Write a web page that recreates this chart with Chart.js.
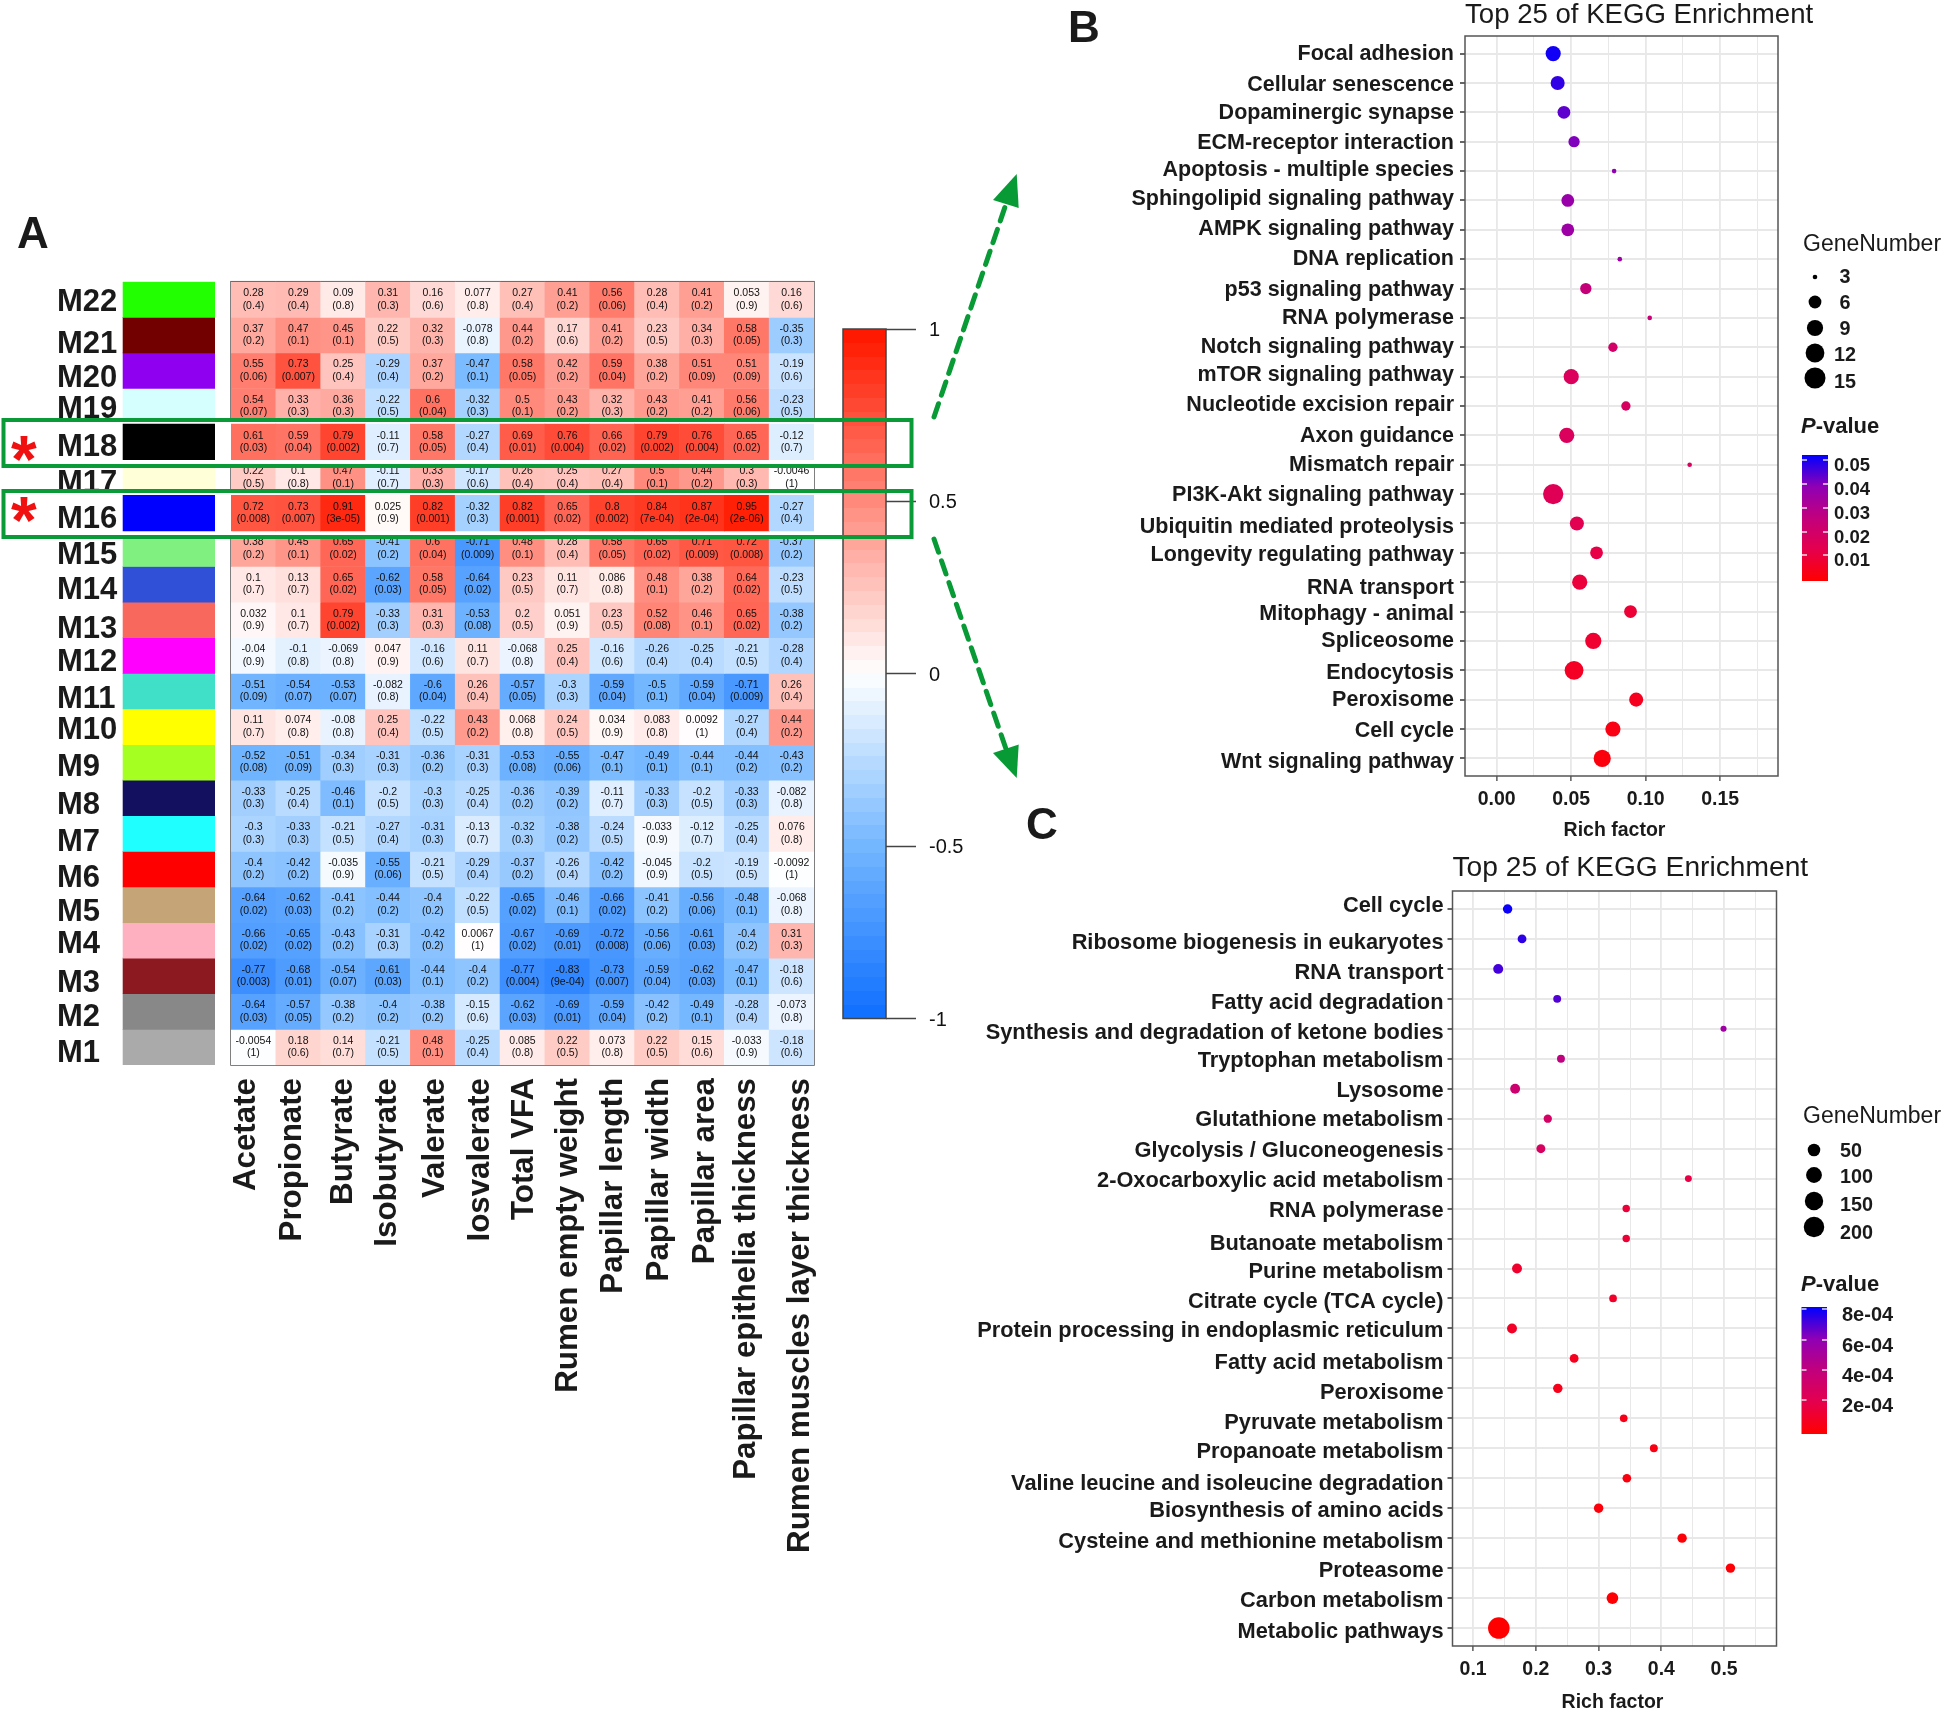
<!DOCTYPE html>
<html>
<head>
<meta charset="utf-8">
<title>Module trait heatmap and KEGG enrichment</title>
<script src="https://cdn.jsdelivr.net/npm/chart.js@4"></script>
<style>
    html, body { margin: 0; padding: 0; background: #fff; }
    #page { position: relative; width: 1946px; height: 1711px; overflow: hidden; }
    #page canvas { position: absolute; left: 0; top: 0; }
    #marks { position: absolute; left: 0; top: 0; }
    #marks text { font-family: "Liberation Sans", Arial, sans-serif; font-weight: bold; }
</style>
</head>
<body>
<div id="page">
    <canvas id="strip" width="1946" height="1711"></canvas>
    <canvas id="heat" width="1946" height="1711"></canvas>
    <canvas id="scale" width="1946" height="1711"></canvas>
    <canvas id="kegg1" width="1946" height="1711"></canvas>
    <canvas id="kegg2" width="1946" height="1711"></canvas>
    <svg id="marks" width="1946" height="1711">
        <g fill="none" stroke="#0a9a38" stroke-width="4">
            <rect x="3.5" y="420" width="908" height="46"></rect>
            <rect x="3.5" y="491" width="908" height="46"></rect>
        </g>
        <g fill="none" stroke="#079a35" stroke-width="5" stroke-dasharray="14 9" stroke-linecap="round">
            <line x1="934" y1="417" x2="1006" y2="204"></line>
            <line x1="934" y1="539" x2="1006" y2="749"></line>
        </g>
        <g fill="#079a35">
            <polygon points="1016.7,174 993,200 1018.7,208"></polygon>
            <polygon points="1016.7,778 993,753 1018.7,744.5"></polygon>
        </g>
        <g fill="#1a1a1a" font-size="44">
            <text x="17" y="248">A</text>
            <text x="1068" y="42">B</text>
            <text x="1026" y="839">C</text>
        </g>
        <g fill="#f01010" font-size="66">
            <text x="11" y="482">*</text>
            <text x="11" y="543">*</text>
        </g>
    </svg>
</div>
<script>
const traits = ["Acetate", "Propionate", "Butyrate", "Isobutyrate", "Valerate", "Iosvalerate", "Total VFA",
    "Rumen empty weight", "Papillar length", "Papillar width", "Papillar area",
    "Papillar epithelia thickness", "Rumen muscles layer thickness"];
const modules = ["M22", "M21", "M20", "M19", "M18", "M17", "M16", "M15", "M14", "M13", "M12",
    "M11", "M10", "M9", "M8", "M7", "M6", "M5", "M4", "M3", "M2", "M1"];
const moduleColors = ["#22ff00", "#730000", "#9000f0", "#d5ffff", "#000000", "#ffffd8", "#0000ff", "#80f080",
    "#3050d8", "#f8685c", "#ff00ff", "#40e0c8", "#ffff00", "#a5ff20", "#141060", "#1fffff",
    "#ff0000", "#c5a578", "#ffb0c0", "#8c1820", "#888888", "#aaaaaa"];
const correlations = [
    [0.28, 0.29, 0.09, 0.31, 0.16, 0.077, 0.27, 0.41, 0.56, 0.28, 0.41, 0.053, 0.16],
    [0.37, 0.47, 0.45, 0.22, 0.32, -0.078, 0.44, 0.17, 0.41, 0.23, 0.34, 0.58, -0.35],
    [0.55, 0.73, 0.25, -0.29, 0.37, -0.47, 0.58, 0.42, 0.59, 0.38, 0.51, 0.51, -0.19],
    [0.54, 0.33, 0.36, -0.22, 0.6, -0.32, 0.5, 0.43, 0.32, 0.43, 0.41, 0.56, -0.23],
    [0.61, 0.59, 0.79, -0.11, 0.58, -0.27, 0.69, 0.76, 0.66, 0.79, 0.76, 0.65, -0.12],
    [0.22, 0.1, 0.47, -0.11, 0.33, -0.17, 0.26, 0.25, 0.27, 0.5, 0.44, 0.3, -0.0046],
    [0.72, 0.73, 0.91, 0.025, 0.82, -0.32, 0.82, 0.65, 0.8, 0.84, 0.87, 0.95, -0.27],
    [0.38, 0.45, 0.65, -0.41, 0.6, -0.71, 0.48, 0.28, 0.58, 0.65, 0.71, 0.72, -0.37],
    [0.1, 0.13, 0.65, -0.62, 0.58, -0.64, 0.23, 0.11, 0.086, 0.48, 0.38, 0.64, -0.23],
    [0.032, 0.1, 0.79, -0.33, 0.31, -0.53, 0.2, 0.051, 0.23, 0.52, 0.46, 0.65, -0.38],
    [-0.04, -0.1, -0.069, 0.047, -0.16, 0.11, -0.068, 0.25, -0.16, -0.26, -0.25, -0.21, -0.28],
    [-0.51, -0.54, -0.53, -0.082, -0.6, 0.26, -0.57, -0.3, -0.59, -0.5, -0.59, -0.71, 0.26],
    [0.11, 0.074, -0.08, 0.25, -0.22, 0.43, 0.068, 0.24, 0.034, 0.083, 0.0092, -0.27, 0.44],
    [-0.52, -0.51, -0.34, -0.31, -0.36, -0.31, -0.53, -0.55, -0.47, -0.49, -0.44, -0.44, -0.43],
    [-0.33, -0.25, -0.46, -0.2, -0.3, -0.25, -0.36, -0.39, -0.11, -0.33, -0.2, -0.33, -0.082],
    [-0.3, -0.33, -0.21, -0.27, -0.31, -0.13, -0.32, -0.38, -0.24, -0.033, -0.12, -0.25, 0.076],
    [-0.4, -0.42, -0.035, -0.55, -0.21, -0.29, -0.37, -0.26, -0.42, -0.045, -0.2, -0.19, -0.0092],
    [-0.64, -0.62, -0.41, -0.44, -0.4, -0.22, -0.65, -0.46, -0.66, -0.41, -0.56, -0.48, -0.068],
    [-0.66, -0.65, -0.43, -0.31, -0.42, 0.0067, -0.67, -0.69, -0.72, -0.56, -0.61, -0.4, 0.31],
    [-0.77, -0.68, -0.54, -0.61, -0.44, -0.4, -0.77, -0.83, -0.73, -0.59, -0.62, -0.47, -0.18],
    [-0.64, -0.57, -0.38, -0.4, -0.38, -0.15, -0.62, -0.69, -0.59, -0.42, -0.49, -0.28, -0.073],
    [-0.0054, 0.18, 0.14, -0.21, 0.48, -0.25, 0.085, 0.22, 0.073, 0.22, 0.15, -0.033, -0.18],
];
const corrPvalues = [
    ["0.4", "0.4", "0.8", "0.3", "0.6", "0.8", "0.4", "0.2", "0.06", "0.4", "0.2", "0.9", "0.6"],
    ["0.2", "0.1", "0.1", "0.5", "0.3", "0.8", "0.2", "0.6", "0.2", "0.5", "0.3", "0.05", "0.3"],
    ["0.06", "0.007", "0.4", "0.4", "0.2", "0.1", "0.05", "0.2", "0.04", "0.2", "0.09", "0.09", "0.6"],
    ["0.07", "0.3", "0.3", "0.5", "0.04", "0.3", "0.1", "0.2", "0.3", "0.2", "0.2", "0.06", "0.5"],
    ["0.03", "0.04", "0.002", "0.7", "0.05", "0.4", "0.01", "0.004", "0.02", "0.002", "0.004", "0.02", "0.7"],
    ["0.5", "0.8", "0.1", "0.7", "0.3", "0.6", "0.4", "0.4", "0.4", "0.1", "0.2", "0.3", "1"],
    ["0.008", "0.007", "3e-05", "0.9", "0.001", "0.3", "0.001", "0.02", "0.002", "7e-04", "2e-04", "2e-06", "0.4"],
    ["0.2", "0.1", "0.02", "0.2", "0.04", "0.009", "0.1", "0.4", "0.05", "0.02", "0.009", "0.008", "0.2"],
    ["0.7", "0.7", "0.02", "0.03", "0.05", "0.02", "0.5", "0.7", "0.8", "0.1", "0.2", "0.02", "0.5"],
    ["0.9", "0.7", "0.002", "0.3", "0.3", "0.08", "0.5", "0.9", "0.5", "0.08", "0.1", "0.02", "0.2"],
    ["0.9", "0.8", "0.8", "0.9", "0.6", "0.7", "0.8", "0.4", "0.6", "0.4", "0.4", "0.5", "0.4"],
    ["0.09", "0.07", "0.07", "0.8", "0.04", "0.4", "0.05", "0.3", "0.04", "0.1", "0.04", "0.009", "0.4"],
    ["0.7", "0.8", "0.8", "0.4", "0.5", "0.2", "0.8", "0.5", "0.9", "0.8", "1", "0.4", "0.2"],
    ["0.08", "0.09", "0.3", "0.3", "0.2", "0.3", "0.08", "0.06", "0.1", "0.1", "0.1", "0.2", "0.2"],
    ["0.3", "0.4", "0.1", "0.5", "0.3", "0.4", "0.2", "0.2", "0.7", "0.3", "0.5", "0.3", "0.8"],
    ["0.3", "0.3", "0.5", "0.4", "0.3", "0.7", "0.3", "0.2", "0.5", "0.9", "0.7", "0.4", "0.8"],
    ["0.2", "0.2", "0.9", "0.06", "0.5", "0.4", "0.2", "0.4", "0.2", "0.9", "0.5", "0.5", "1"],
    ["0.02", "0.03", "0.2", "0.2", "0.2", "0.5", "0.02", "0.1", "0.02", "0.2", "0.06", "0.1", "0.8"],
    ["0.02", "0.02", "0.2", "0.3", "0.2", "1", "0.02", "0.01", "0.008", "0.06", "0.03", "0.2", "0.3"],
    ["0.003", "0.01", "0.07", "0.03", "0.1", "0.2", "0.004", "9e-04", "0.007", "0.04", "0.03", "0.1", "0.6"],
    ["0.03", "0.05", "0.2", "0.2", "0.2", "0.6", "0.03", "0.01", "0.04", "0.2", "0.1", "0.4", "0.8"],
    ["1", "0.6", "0.7", "0.5", "0.1", "0.4", "0.8", "0.5", "0.8", "0.5", "0.6", "0.9", "0.6"],
];
const corrTicks = [-1, -0.5, 0, 0.5, 1];

const pathwaysB = ["Focal adhesion", "Cellular senescence", "Dopaminergic synapse", "ECM-receptor interaction",
    "Apoptosis - multiple species", "Sphingolipid signaling pathway", "AMPK signaling pathway", "DNA replication",
    "p53 signaling pathway", "RNA polymerase", "Notch signaling pathway", "mTOR signaling pathway",
    "Nucleotide excision repair", "Axon guidance", "Mismatch repair", "PI3K-Akt signaling pathway",
    "Ubiquitin mediated proteolysis", "Longevity regulating pathway", "RNA transport", "Mitophagy - animal",
    "Spliceosome", "Endocytosis", "Peroxisome", "Cell cycle", "Wnt signaling pathway"];
const richB = [0.0379, 0.0409, 0.0451, 0.0519, 0.0788, 0.0477, 0.0477, 0.0826, 0.0598, 0.1027, 0.078, 0.05, 0.0867,
    0.047, 0.1295, 0.0379, 0.0538, 0.067, 0.0557, 0.0898, 0.0648, 0.0519, 0.0936, 0.078, 0.0708];
const genesB = [8, 7, 6, 5, 3, 6, 6, 3, 5, 3, 4, 8, 4, 8, 3, 14, 7, 6, 8, 6, 9, 12, 7, 8, 10];
const pvalB = [0.05, 0.047, 0.043, 0.04, 0.038, 0.036, 0.035, 0.035, 0.025, 0.024, 0.02, 0.017, 0.018,
    0.017, 0.017, 0.015, 0.014, 0.012, 0.01, 0.009, 0.008, 0.006, 0.005, 0.003, 0.002];
const geneLegendB = [3, 6, 9, 12, 15];
const pvalLegendB = [0.05, 0.04, 0.03, 0.02, 0.01];

const pathwaysC = ["Cell cycle", "Ribosome biogenesis in eukaryotes", "RNA transport", "Fatty acid degradation",
    "Synthesis and degradation of ketone bodies", "Tryptophan metabolism", "Lysosome", "Glutathione metabolism",
    "Glycolysis / Gluconeogenesis", "2-Oxocarboxylic acid metabolism", "RNA polymerase", "Butanoate metabolism",
    "Purine metabolism", "Citrate cycle (TCA cycle)", "Protein processing in endoplasmic reticulum",
    "Fatty acid metabolism", "Peroxisome", "Pyruvate metabolism", "Propanoate metabolism",
    "Valine leucine and isoleucine degradation", "Biosynthesis of amino acids", "Cysteine and methionine metabolism",
    "Proteasome", "Carbon metabolism", "Metabolic pathways"];
const richC = [0.155, 0.178, 0.14, 0.234, 0.499, 0.24, 0.167, 0.219, 0.208, 0.443, 0.344, 0.344, 0.17, 0.323, 0.162,
    0.261, 0.235, 0.34, 0.388, 0.345, 0.3, 0.433, 0.51, 0.322, 0.141];
const genesC = [19, 15, 23, 10, 4, 10, 23, 12, 16, 6, 8, 8, 23, 9, 23, 15, 19, 9, 10, 14, 19, 19, 19, 40, 230];
const pvalC = [8e-4, 7.5e-4, 7.2e-4, 7e-4, 5.5e-4, 4.2e-4, 3.5e-4, 3e-4, 2.8e-4, 1.8e-4, 1.5e-4, 1.4e-4, 1.2e-4, 1.1e-4,
    1e-4, 0.8e-4, 0.7e-4, 0.6e-4, 0.5e-4, 0.4e-4, 0.3e-4, 0.2e-4, 0.15e-4, 0.1e-4, 0.01e-4];
const geneLegendC = [50, 100, 150, 200];
const pvalLegendC = ["8e-04", "6e-04", "4e-04", "2e-04"];

// nudges for labels that were placed by hand in the figure
const rowLabelNudge = [3, 9.7, 7.3, 3, 6, 6, 6, 7, 6, 10, 7, 8.6, 4, 5, 7, 9, 9.6, 8, 4.4, 7, 6.2, 6];
const colLabelNudge = [-7.2, -5.5, 0.5, -0.1, 2.5, 2.5, 1.5, 1.5, 0.8, 2.5, 3, 0.1, 8.5];
const labelNudgeB = [0, 2.5, 1.2, 1.2, -1.2, -1.2, -1.2, 0, 1.2, 0, 0, -1.2, -1.2, 1.2, 0, 1.2, 3.7, 2.5, 6, 2.5, 0, 2.5, 0, 2.5, 3.7];
const labelNudgeC = [-2.5, 3.7, 3.7, 3.7, 3.7, 2.5, 2.5, 1.2, 2.5, 2.5, 2.5, 5, 3.7, 3.7, 2.5, 5, 5, 5, 3.7, 6.2, 2.5, 3.7, 2.5, 2.5, 3.7];

const FONT = '"Liberation Sans", Arial, sans-serif';
const HEAT = { left: 231, right: 814, top: 281.7, bottom: 1065 };
const BANDS = { M18: [420, 466], M16: [491, 537] };
const TEXT = "#1a1a1a";
const AXIS_W = 560;

Chart.defaults.font.family = FONT;
Chart.defaults.animation = false;
Chart.defaults.responsive = false;
Chart.defaults.devicePixelRatio = 1;
Chart.defaults.plugins.legend.display = false;
Chart.defaults.plugins.tooltip.enabled = false;

function heatColor(v) {
    const a = Math.abs(v);
    if (v >= 0) {
        return `rgb(255,${Math.round(255 - 235 * a)},${Math.max(0, Math.round(255 - 262 * a))})`;
    }
    const red = a < 0.5 ? 255 - 280 * a : 115 - 200 * (a - 0.5);
    return `rgb(${Math.round(red)},${Math.round(255 - 145 * a)},255)`;
}

const pStops = [[255, 0, 0], [229, 0, 77], [194, 0, 124], [143, 0, 181], [0, 0, 255]];

function pColor(t) {
    const pos = Math.min(Math.max(t, 0), 1) * (pStops.length - 1);
    const i = Math.min(Math.floor(pos), pStops.length - 2);
    const f = pos - i;
    const rgb = pStops[i].map((c, k) => Math.round(c + (pStops[i + 1][k] - c) * f));
    return `rgb(${rgb.join(",")})`;
}

function areaRadius(n, nMin, nMax, rMin, rMax) {
    return rMin + (rMax - rMin) * Math.sqrt((n - nMin) / (nMax - nMin));
}

function pagePadding(box) {
    return { left: box.left, top: box.top, right: 1946 - box.right, bottom: 1711 - box.bottom };
}

// white band behind a highlighted row, the green box itself sits in the svg on top
function paintBand(chart, name, x0, x1) {
    const band = BANDS[name];
    chart.ctx.save();
    chart.ctx.fillStyle = "#fff";
    chart.ctx.fillRect(x0, band[0], x1 - x0, band[1] - band[0]);
    chart.ctx.restore();
}

const stripLabels = {
    id: "stripLabels",
    drawLabels(chart, names) {
        const { ctx, scales } = chart;
        ctx.save();
        ctx.font = `bold 31px ${FONT}`;
        ctx.fillStyle = TEXT;
        ctx.textBaseline = "middle";
        modules.forEach((m, i) => {
            if (names.includes(m)) {
                ctx.fillText(m, 57, scales.y.getPixelForValue(i + 0.5) + rowLabelNudge[i]);
            }
        });
        ctx.restore();
    },
    beforeDatasetsDraw(chart) {
        this.drawLabels(chart, modules.filter((m) => !BANDS[m]));
    },
    beforeDatasetDraw(chart, args) {
        const name = chart.data.datasets[args.index].label;
        if (BANDS[name]) {
            paintBand(chart, name, 0, 226);
        }
    },
    afterDatasetsDraw(chart) {
        this.drawLabels(chart, Object.keys(BANDS));
    },
};

new Chart(document.getElementById("strip"), {
    type: "bar",
    data: {
        labels: ["module"],
        datasets: modules.map((m, i) => ({
            label: m,
            data: [[i, i + 1]],
            backgroundColor: moduleColors[i],
            order: BANDS[m] ? 0 : 1,
        })),
    },
    options: {
        layout: { padding: pagePadding({ left: 122.6, right: 215, top: HEAT.top, bottom: HEAT.bottom }) },
        datasets: { bar: { barPercentage: 1, categoryPercentage: 1, grouped: false, borderWidth: 0 } },
        scales: {
            x: { display: false },
            y: { display: false, min: 0, max: modules.length, reverse: true },
        },
    },
    plugins: [stripLabels],
});

const heatText = {
    id: "heatText",
    beforeDatasetsDraw(chart) {
        const { ctx, chartArea } = chart;
        ctx.save();
        ctx.strokeStyle = "#555";
        ctx.lineWidth = 1.5;
        ctx.strokeRect(chartArea.left, chartArea.top, chartArea.right - chartArea.left, chartArea.bottom - chartArea.top);
        ctx.restore();
    },
    beforeDatasetDraw(chart, args) {
        const name = chart.data.datasets[args.index].label;
        if (BANDS[name]) {
            paintBand(chart, name, 226, 838);
        }
    },
    afterDatasetsDraw(chart) {
        const { ctx, scales } = chart;
        ctx.save();
        ctx.fillStyle = "#111";
        ctx.textAlign = "center";
        ctx.textBaseline = "middle";
        ctx.font = `10.5px ${FONT}`;
        correlations.forEach((row, i) => {
            const y = scales.y.getPixelForValue(i + 0.5);
            row.forEach((v, j) => {
                const x = scales.x.getPixelForValue(j);
                ctx.fillText(String(v), x, y - 6.2);
                ctx.fillText(`(${corrPvalues[i][j]})`, x, y + 6.2);
            });
        });
        ctx.fillStyle = TEXT;
        ctx.font = `bold 31.3px ${FONT}`;
        ctx.textAlign = "right";
        traits.forEach((t, j) => {
            ctx.save();
            ctx.translate(scales.x.getPixelForValue(j) + colLabelNudge[j], 1078);
            ctx.rotate(-Math.PI / 2);
            ctx.fillText(t, 0, 0);
            ctx.restore();
        });
        ctx.restore();
    },
};

new Chart(document.getElementById("heat"), {
    type: "bar",
    data: {
        labels: traits,
        datasets: modules.map((m, i) => ({
            label: m,
            data: traits.map(() => [i, i + 1]),
            backgroundColor: correlations[i].map(heatColor),
            order: BANDS[m] ? 0 : 1,
        })),
    },
    options: {
        layout: { padding: pagePadding(HEAT) },
        datasets: { bar: { barPercentage: 1, categoryPercentage: 1, grouped: false, borderWidth: 0 } },
        scales: {
            x: { display: false },
            y: { display: false, min: 0, max: modules.length, reverse: true },
        },
    },
    plugins: [heatText],
});

function steppedGradient(chart) {
    const { ctx, chartArea } = chart;
    if (!chartArea) {
        return "#fff";
    }
    const steps = 50;
    const gradient = ctx.createLinearGradient(0, chartArea.bottom, 0, chartArea.top);
    for (let i = 0; i < steps; i++) {
        const color = heatColor(((i + 0.5) / steps) * 2 - 1);
        gradient.addColorStop(i / steps, color);
        gradient.addColorStop((i + 1) / steps, color);
    }
    return gradient;
}

const frameOnTop = {
    id: "frameOnTop",
    afterDraw(chart) {
        const { ctx, chartArea } = chart;
        ctx.save();
        ctx.strokeStyle = "#444";
        ctx.lineWidth = 1.5;
        ctx.strokeRect(chartArea.left, chartArea.top, chartArea.right - chartArea.left, chartArea.bottom - chartArea.top);
        ctx.restore();
    },
};

new Chart(document.getElementById("scale"), {
    type: "bar",
    data: {
        labels: ["r"],
        datasets: [{
            data: [[corrTicks[0], corrTicks[corrTicks.length - 1]]],
            backgroundColor: (c) => steppedGradient(c.chart),
            borderWidth: 0,
            barPercentage: 1,
            categoryPercentage: 1,
        }],
    },
    options: {
        layout: { padding: pagePadding({ left: 843, right: 886 + 90, top: 329, bottom: 1018.5 }) },
        scales: {
            x: { display: false },
            y: {
                position: "right",
                min: -1,
                max: 1,
                afterBuildTicks: (s) => { s.ticks = corrTicks.map((value) => ({ value })); },
                afterFit: (s) => { s.width = 90; },
                border: { display: false },
                grid: { drawOnChartArea: false, tickLength: 30, tickColor: "#444", tickWidth: 1.5 },
                ticks: {
                    padding: 13,
                    labelOffset: 1.5,
                    color: "#111",
                    font: { size: 20 },
                    callback: (v) => String(v),
                },
            },
        },
    },
    plugins: [frameOnTop],
});

function dotPlot(canvasId, cfg) {
    const extras = {
        id: "extras",
        afterDraw(chart) {
            const { ctx, chartArea, scales } = chart;
            ctx.save();
            ctx.strokeStyle = "#555";
            ctx.lineWidth = 1.5;
            ctx.strokeRect(chartArea.left, chartArea.top, chartArea.right - chartArea.left, chartArea.bottom - chartArea.top);

            ctx.fillStyle = TEXT;
            ctx.textBaseline = "middle";
            ctx.textAlign = "right";
            ctx.font = `bold ${cfg.labelSize}px ${FONT}`;
            cfg.labels.forEach((label, i) => {
                ctx.fillText(label, chartArea.left - 5 - cfg.yPad, scales.y.getPixelForValue(i) + cfg.labelNudge[i]);
            });

            ctx.textAlign = "center";
            ctx.font = `bold 19.5px ${FONT}`;
            ctx.fillText("Rich factor", cfg.xTitle[0], cfg.xTitle[1]);

            ctx.textAlign = "left";
            ctx.font = `${cfg.titleSize}px ${FONT}`;
            ctx.fillText("Top 25 of KEGG Enrichment", cfg.box.left, cfg.titleY);

            ctx.font = `23px ${FONT}`;
            ctx.fillText("GeneNumber", cfg.legendX, cfg.geneTitleY);
            cfg.geneLegend.forEach((n, i) => {
                ctx.fillStyle = "#000";
                ctx.beginPath();
                ctx.arc(cfg.geneDotX, cfg.geneDotY[i], cfg.radius(n), 0, Math.PI * 2);
                ctx.fill();
                ctx.fillStyle = TEXT;
                ctx.font = `bold 19.8px ${FONT}`;
                ctx.textAlign = cfg.geneTextAlign;
                ctx.fillText(String(n), cfg.geneTextX, cfg.geneTextY[i]);
            });
            ctx.textAlign = "left";

            ctx.font = `italic bold 22px ${FONT}`;
            ctx.fillText("P", cfg.legendX - 2, cfg.pTitleY);
            const pWidth = ctx.measureText("P").width;
            ctx.font = `bold 22px ${FONT}`;
            ctx.fillText("-value", cfg.legendX - 2 + pWidth, cfg.pTitleY);

            const bar = cfg.bar;
            const gradient = ctx.createLinearGradient(0, bar.bottom, 0, bar.top);
            pStops.forEach((s, i) => {
                gradient.addColorStop(i / (pStops.length - 1), `rgb(${s.join(",")})`);
            });
            ctx.fillStyle = gradient;
            ctx.fillRect(bar.left, bar.top, bar.right - bar.left, bar.bottom - bar.top);
            ctx.font = `bold ${bar.textSize}px ${FONT}`;
            cfg.pLegend.forEach((label, i) => {
                const y = bar.tickY[i];
                ctx.fillStyle = "rgba(255,255,255,0.85)";
                ctx.fillRect(bar.left, y - 0.75, 5, 1.5);
                ctx.fillRect(bar.right - 5, y - 0.75, 5, 1.5);
                ctx.fillStyle = TEXT;
                ctx.fillText(String(label), bar.textX, y + bar.textDy);
            });
            ctx.restore();
        },
    };

    new Chart(document.getElementById(canvasId), {
        type: "scatter",
        data: {
            datasets: [{
                data: cfg.rich.map((x, i) => ({ x, y: i })),
                pointRadius: cfg.genes.map(cfg.radius),
                pointBackgroundColor: cfg.pval.map((p) => pColor(p / cfg.pMax)),
                pointBorderWidth: 0,
            }],
        },
        options: {
            layout: {
                padding: pagePadding({
                    left: cfg.box.left - AXIS_W,
                    right: cfg.box.right,
                    top: cfg.box.top,
                    bottom: cfg.box.bottom + cfg.xHeight,
                }),
            },
            scales: {
                x: {
                    type: "linear",
                    min: cfg.xMin,
                    max: cfg.xMax,
                    afterBuildTicks: (s) => { s.ticks = cfg.xGrid.map((value) => ({ value })); },
                    afterFit: (s) => { s.height = cfg.xHeight; },
                    border: { display: false },
                    grid: {
                        color: "#e8e8e8",
                        lineWidth: (c) => (cfg.xLabel(c.tick.value) ? 1.8 : 1),
                        tickLength: 5,
                        tickColor: (c) => (cfg.xLabel(c.tick.value) ? "#333" : "rgba(0,0,0,0)"),
                        tickWidth: 1.2,
                    },
                    ticks: {
                        autoSkip: false,
                        maxRotation: 0,
                        padding: 7,
                        color: TEXT,
                        font: { size: 19.5, weight: "bold" },
                        callback: (v) => cfg.xLabel(v),
                    },
                },
                y: {
                    type: "linear",
                    reverse: true,
                    min: -0.6,
                    max: cfg.labels.length - 0.4,
                    afterBuildTicks: (s) => { s.ticks = cfg.labels.map((_, value) => ({ value })); },
                    afterFit: (s) => { s.width = AXIS_W; },
                    border: { display: false },
                    grid: { color: "#e8e8e8", lineWidth: 2, tickLength: 5, tickColor: "#333", tickWidth: 1.5 },
                    ticks: { display: false },
                },
            },
        },
        plugins: [extras],
    });
}

dotPlot("kegg1", {
    labels: pathwaysB,
    labelNudge: labelNudgeB,
    rich: richB,
    genes: genesB,
    pval: pvalB,
    pMax: 0.0515,
    radius: (n) => areaRadius(n, 3, 15, 2.3, 10.5),
    box: { left: 1465, right: 1778, top: 36, bottom: 776 },
    xMin: -0.0213,
    xMax: 0.1888,
    xGrid: [0, 0.025, 0.05, 0.075, 0.1, 0.125, 0.15, 0.175],
    xLabel: (v) => (Math.abs((v / 0.05) - Math.round(v / 0.05)) < 1e-6 ? v.toFixed(2) : ""),
    xHeight: 65.7,
    xTitle: [1614.5, 830.5],
    yPad: 6,
    labelSize: 21.5,
    titleSize: 27.6,
    titleY: 15,
    legendX: 1803,
    geneTitleY: 245,
    geneLegend: geneLegendB,
    geneDotX: 1815,
    geneDotY: [277, 302, 328, 353, 378],
    geneTextAlign: "center",
    geneTextX: 1845,
    geneTextY: [278, 304, 330, 356, 383],
    pTitleY: 427,
    pLegend: pvalLegendB,
    bar: { left: 1802, right: 1828, top: 455, bottom: 581, tickY: [460, 484, 508, 532, 555], textX: 1834, textDy: 5.5, textSize: 18.5 },
});

dotPlot("kegg2", {
    labels: pathwaysC,
    labelNudge: labelNudgeC,
    rich: richC,
    genes: genesC,
    pval: pvalC,
    pMax: 8.15e-4,
    radius: (n) => areaRadius(n, 3, 230, 2.5, 10.8),
    box: { left: 1452.5, right: 1776.5, top: 891, bottom: 1646 },
    xMin: 0.0672,
    xMax: 0.5834,
    xGrid: [0.1, 0.15, 0.2, 0.25, 0.3, 0.35, 0.4, 0.45, 0.5, 0.55],
    xLabel: (v) => (Math.abs((v / 0.1) - Math.round(v / 0.1)) < 1e-6 ? v.toFixed(1) : ""),
    xHeight: 67.7,
    xTitle: [1612.5, 1702.5],
    yPad: 4,
    labelSize: 21.8,
    titleSize: 28.2,
    titleY: 868,
    legendX: 1803,
    geneTitleY: 1117,
    geneLegend: geneLegendC,
    geneDotX: 1814,
    geneDotY: [1150, 1175, 1201, 1227],
    geneTextAlign: "left",
    geneTextX: 1840,
    geneTextY: [1152, 1178, 1206, 1234],
    pTitleY: 1285,
    pLegend: pvalLegendC,
    bar: { left: 1801.5, right: 1827, top: 1307, bottom: 1434, tickY: [1309, 1340, 1370, 1400], textX: 1842, textDy: 6, textSize: 20 },
});
</script>
</body>
</html>
